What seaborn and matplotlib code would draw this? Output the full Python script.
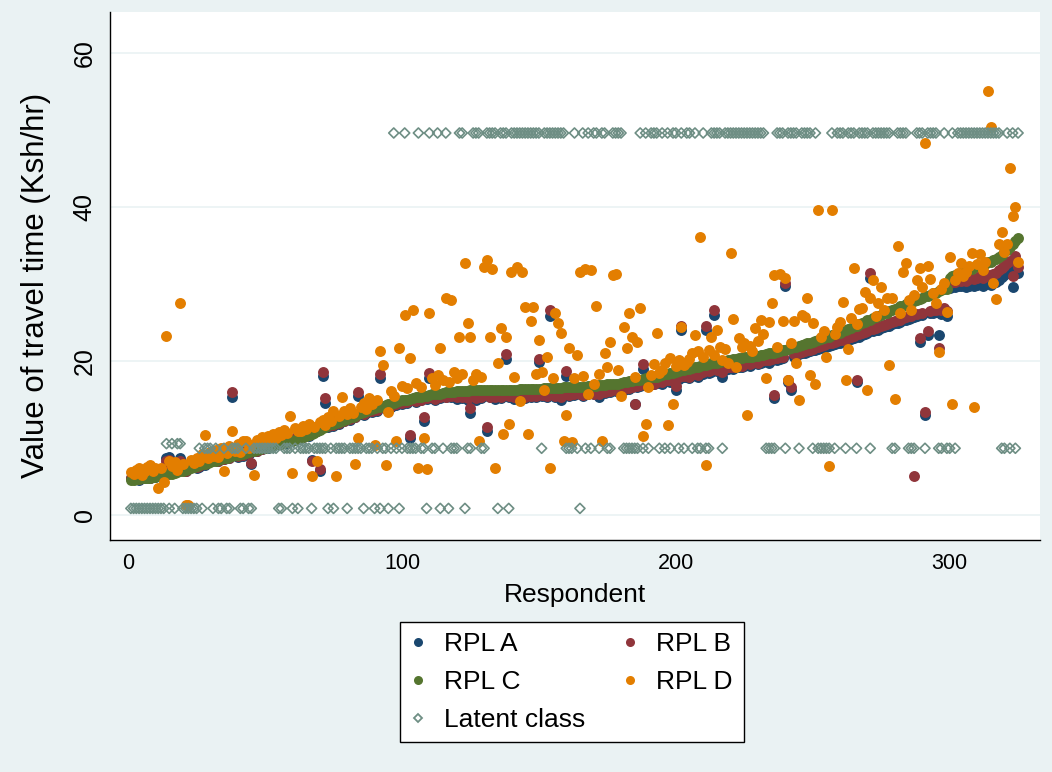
import matplotlib
matplotlib.use("Agg")
import matplotlib.pyplot as plt
from matplotlib.lines import Line2D
import numpy as np
import pandas as pd
import seaborn as sns

# values, one per respondent (1..325), 25 per line
rpl_c = [
    4.6, 4.6, 4.7, 4.7, 4.8, 4.8, 4.9, 4.9, 5.0, 5.0, 5.1, 5.1, 5.2, 5.3, 5.3, 5.4, 5.5, 5.6, 5.7, 5.8, 5.9, 6.0, 6.1, 6.3, 6.4,
    6.5, 6.6, 6.7, 6.8, 6.9, 7.0, 7.1, 7.2, 7.3, 7.4, 7.5, 7.6, 7.7, 7.8, 7.8, 7.9, 8.0, 8.1, 8.2, 8.3, 8.4, 8.5, 8.6, 8.7, 8.8,
    8.9, 9.0, 9.1, 9.2, 9.3, 9.3, 9.4, 9.5, 9.6, 9.7, 9.8, 9.9, 10.0, 10.1, 10.3, 10.4, 10.5, 10.7, 10.9, 11.1, 11.3, 11.5, 11.7, 11.8, 11.9,
    12.0, 12.1, 12.3, 12.4, 12.5, 12.7, 12.8, 12.9, 13.1, 13.3, 13.4, 13.6, 13.7, 13.8, 13.9, 14.0, 14.1, 14.2, 14.3, 14.4, 14.5, 14.6, 14.7, 14.8, 14.9,
    14.9, 15.0, 15.1, 15.2, 15.3, 15.4, 15.4, 15.5, 15.5, 15.6, 15.7, 15.7, 15.8, 15.8, 15.9, 16.0, 16.0, 16.0, 16.0, 16.1, 16.1, 16.1, 16.1, 16.1, 16.2,
    16.2, 16.2, 16.2, 16.2, 16.2, 16.2, 16.2, 16.3, 16.3, 16.3, 16.3, 16.3, 16.3, 16.3, 16.3, 16.3, 16.3, 16.4, 16.4, 16.4, 16.4, 16.4, 16.4, 16.4, 16.4,
    16.4, 16.5, 16.5, 16.5, 16.5, 16.5, 16.5, 16.5, 16.6, 16.6, 16.6, 16.6, 16.6, 16.7, 16.7, 16.7, 16.7, 16.8, 16.8, 16.8, 16.8, 16.9, 16.9, 16.9, 17.0,
    17.0, 17.0, 17.1, 17.1, 17.2, 17.3, 17.3, 17.4, 17.4, 17.5, 17.6, 17.6, 17.7, 17.8, 17.8, 17.9, 18.0, 18.0, 18.1, 18.2, 18.3, 18.4, 18.5, 18.5, 18.6,
    18.7, 18.8, 18.9, 19.0, 19.0, 19.1, 19.2, 19.3, 19.4, 19.5, 19.5, 19.6, 19.7, 19.8, 19.8, 19.9, 20.0, 20.0, 20.1, 20.2, 20.3, 20.3, 20.4, 20.4, 20.5,
    20.5, 20.6, 20.6, 20.7, 20.7, 20.8, 20.8, 20.9, 21.0, 21.0, 21.1, 21.2, 21.3, 21.4, 21.5, 21.6, 21.7, 21.8, 21.9, 22.0, 22.1, 22.2, 22.3, 22.4, 22.5,
    22.6, 22.7, 22.9, 23.0, 23.1, 23.2, 23.4, 23.5, 23.6, 23.7, 23.9, 24.0, 24.2, 24.3, 24.5, 24.6, 24.8, 25.0, 25.1, 25.3, 25.4, 25.6, 25.7, 25.9, 26.0,
    26.2, 26.3, 26.5, 26.6, 26.8, 26.9, 27.1, 27.2, 27.4, 27.5, 27.7, 27.8, 28.0, 28.1, 28.2, 28.4, 28.5, 28.6, 28.8, 28.9, 29.1, 29.2, 29.3, 29.4, 30.8,
    31.0, 31.2, 31.3, 31.5, 31.6, 31.8, 31.9, 32.0, 32.2, 32.3, 32.4, 32.5, 32.6, 32.8, 32.9, 33.1, 33.3, 33.5, 33.8, 34.1, 34.4, 34.8, 35.2, 35.6, 36.0,
]

rpl_a = [
    4.8, 4.7, 5.0, 4.6, 5.1, 4.9, 5.2, 4.8, 5.3, 5.0, 5.4, 5.6, 5.9, 7.4, 7.6, 6.3, 5.8, 6.1, 7.4, 6.0, 5.7, 6.2, 6.4, 6.6, 6.2,
    6.3, 6.9, 6.5, 7.1, 7.0, 7.4, 7.2, 7.0, 7.6, 7.3, 7.8, 7.5, 15.3, 7.9, 7.6, 8.1, 7.7, 8.3, 8.0, 6.6, 8.5, 8.4, 8.7, 8.6, 8.9,
    8.8, 9.1, 9.0, 9.3, 9.5, 9.2, 9.6, 9.4, 9.8, 9.7, 10.0, 9.9, 10.2, 10.1, 10.5, 10.3, 7.2, 10.8, 11.0, 5.8, 18.1, 14.6, 11.5, 11.9, 11.6,
    12.2, 11.9, 12.4, 12.2, 12.6, 12.4, 13.0, 12.7, 15.5, 13.2, 13.0, 13.3, 13.6, 13.4, 13.8, 13.6, 17.8, 14.0, 13.8, 14.3, 14.1, 14.5, 14.3, 14.7, 14.5,
    14.8, 14.6, 10.0, 15.0, 14.7, 15.2, 14.9, 12.2, 15.1, 17.8, 15.3, 15.0, 15.5, 15.2, 15.6, 15.3, 15.7, 15.4, 15.8, 15.1, 15.6, 15.2, 15.7, 15.0, 13.3,
    15.4, 15.0, 15.6, 15.2, 15.5, 11.0, 15.3, 15.6, 15.1, 15.5, 15.2, 15.7, 20.3, 15.4, 15.6, 15.1, 15.5, 15.3, 15.7, 15.2, 15.6, 15.4, 15.8, 15.3, 19.9,
    15.5, 15.8, 15.4, 25.8, 15.6, 15.3, 15.9, 14.9, 15.7, 18.1, 15.5, 15.9, 15.6, 16.0, 15.7, 15.5, 16.0, 15.8, 16.1, 15.7, 16.0, 15.3, 16.1, 15.9, 16.2,
    16.0, 16.3, 16.1, 16.2, 16.4, 16.3, 16.5, 16.4, 16.6, 14.4, 16.7, 16.8, 19.0, 16.9, 17.0, 17.1, 17.0, 17.2, 17.3, 17.1, 17.4, 17.5, 17.3, 17.6, 16.2,
    17.7, 24.0, 17.9, 18.0, 17.8, 18.1, 18.2, 17.9, 18.3, 18.4, 24.0, 18.5, 18.6, 26.0, 18.7, 18.8, 18.0, 18.9, 19.0, 19.1, 19.0, 19.2, 19.3, 19.2, 19.4,
    19.5, 19.4, 19.6, 19.7, 19.6, 19.8, 19.9, 20.0, 19.8, 20.1, 15.2, 20.2, 20.3, 20.4, 29.7, 17.3, 16.3, 20.6, 20.7, 20.9, 21.0, 21.1, 21.2, 21.3, 21.4,
    21.5, 21.6, 21.7, 21.8, 21.9, 22.0, 22.1, 22.2, 22.3, 22.4, 22.5, 22.6, 22.8, 22.9, 23.0, 17.3, 23.2, 23.4, 23.5, 23.6, 30.8, 23.9, 24.0, 24.1, 24.3,
    24.4, 24.5, 24.6, 24.8, 24.9, 25.0, 25.1, 25.3, 25.4, 25.5, 25.6, 25.7, 25.8, 22.5, 26.0, 13.0, 23.4, 26.2, 26.3, 26.4, 23.4, 26.1, 26.5, 25.9, 29.5,
    29.7, 29.6, 29.8, 29.7, 29.9, 29.6, 29.8, 30.0, 29.7, 29.9, 30.1, 29.8, 30.0, 30.2, 29.9, 30.1, 30.3, 30.5, 30.9, 31.2, 31.5, 31.8, 29.6, 32.6, 31.4,
]

rpl_b = [
    4.9, 4.8, 5.0, 4.7, 5.1, 5.0, 5.2, 4.9, 5.3, 5.1, 5.4, 5.6, 5.8, 7.0, 7.2, 6.2, 5.9, 6.1, 7.0, 6.0, 5.8, 6.2, 6.4, 6.5, 6.3,
    6.4, 6.8, 6.6, 7.0, 7.0, 7.3, 7.2, 7.1, 7.5, 7.3, 7.7, 7.5, 16.0, 7.9, 7.7, 8.1, 7.8, 8.3, 8.1, 6.8, 8.5, 8.4, 8.7, 8.6, 8.9,
    8.9, 9.1, 9.1, 9.3, 9.5, 9.3, 9.6, 9.5, 9.8, 9.8, 10.0, 10.0, 10.2, 10.2, 10.5, 10.4, 7.1, 10.8, 11.0, 6.0, 18.6, 15.2, 11.6, 11.9, 11.7,
    12.2, 12.0, 12.4, 12.3, 12.6, 12.5, 13.0, 12.8, 16.0, 13.3, 13.1, 13.4, 13.6, 13.5, 13.8, 13.7, 18.4, 14.0, 13.9, 14.3, 14.2, 14.5, 14.4, 14.7, 14.6,
    14.8, 14.7, 10.4, 15.0, 14.8, 15.2, 15.0, 12.7, 15.2, 18.5, 15.3, 15.1, 15.5, 15.3, 15.6, 15.4, 15.7, 15.5, 15.8, 15.3, 15.7, 15.3, 15.8, 15.2, 13.9,
    15.5, 15.2, 15.7, 15.3, 15.6, 11.4, 15.4, 15.7, 15.3, 15.6, 15.4, 15.8, 20.9, 15.5, 15.7, 15.3, 15.6, 15.4, 15.8, 15.4, 15.7, 15.5, 15.9, 15.5, 20.3,
    15.6, 15.9, 15.5, 26.6, 15.7, 15.5, 16.0, 15.4, 15.8, 18.7, 15.6, 16.0, 15.7, 16.1, 15.8, 15.6, 16.1, 15.9, 16.2, 15.8, 16.1, 15.8, 16.2, 16.0, 16.3,
    16.1, 16.4, 16.2, 16.3, 16.5, 16.4, 16.6, 16.5, 16.7, 14.5, 16.8, 16.9, 19.6, 17.0, 17.1, 17.2, 17.1, 17.3, 17.4, 17.3, 17.5, 17.6, 17.5, 17.7, 16.8,
    17.9, 24.5, 18.1, 18.2, 18.0, 18.3, 18.4, 18.2, 18.5, 18.6, 24.5, 18.7, 18.8, 26.6, 18.9, 19.0, 18.6, 19.1, 19.2, 19.3, 19.2, 19.4, 19.5, 19.4, 19.6,
    19.7, 19.6, 19.8, 19.9, 19.8, 20.0, 20.1, 20.2, 20.1, 20.3, 15.6, 20.4, 20.5, 20.6, 30.1, 17.5, 16.6, 20.9, 21.0, 21.1, 21.2, 21.3, 21.4, 21.5, 21.6,
    21.8, 21.9, 22.0, 22.1, 22.2, 22.3, 22.4, 22.5, 22.6, 22.7, 22.8, 22.9, 23.1, 23.2, 23.3, 17.6, 23.5, 23.7, 23.8, 23.9, 31.4, 24.2, 24.3, 24.4, 24.6,
    24.7, 24.8, 24.9, 25.1, 25.2, 25.3, 25.4, 25.6, 25.7, 25.8, 25.9, 5.1, 26.1, 23.0, 26.3, 13.4, 23.9, 26.5, 26.6, 26.7, 21.7, 26.6, 26.9, 26.5, 30.2,
    30.4, 30.3, 30.5, 30.4, 30.6, 30.4, 30.6, 30.8, 30.6, 30.8, 31.0, 30.8, 31.0, 31.2, 31.0, 31.3, 31.5, 31.8, 32.1, 32.4, 32.7, 33.0, 31.0, 33.6, 32.2,
]

rpl_d = [
    5.6, 5.3, 5.9, 6.1, 5.2, 5.8, 6.3, 6.5, 5.7, 6.2, 3.6, 6.1, 4.3, 23.3, 7.0, 6.4, 6.9, 5.9, 27.5, 6.6, 1.4, 1.3, 7.2, 6.8, 7.5,
    7.1, 8.0, 10.4, 7.4, 8.2, 7.7, 8.5, 7.6, 8.8, 5.8, 8.1, 9.0, 10.9, 8.4, 9.3, 8.2, 9.6, 9.7, 8.7, 9.1, 5.2, 9.8, 9.4, 10.1, 9.5,
    10.3, 9.9, 10.6, 10.0, 10.8, 10.4, 11.1, 10.7, 12.9, 5.5, 11.3, 10.9, 11.0, 11.6, 11.2, 11.8, 5.1, 11.4, 7.1, 12.1, 12.4, 11.7, 12.8, 12.2, 13.6,
    5.1, 12.9, 15.3, 13.6, 13.1, 13.9, 13.3, 6.6, 10.0, 14.1, 14.6, 13.8, 15.2, 14.4, 9.1, 15.0, 21.3, 19.5, 6.5, 13.4, 16.1, 15.5, 9.7, 21.7, 16.8,
    26.0, 16.5, 20.4, 26.6, 17.2, 6.1, 16.6, 10.0, 6.0, 26.3, 17.8, 16.9, 18.2, 21.7, 17.5, 28.2, 17.3, 28.0, 18.6, 17.8, 23.1, 18.3, 32.7, 24.9, 23.1,
    17.6, 18.4, 9.7, 17.9, 32.2, 33.1, 23.1, 32.0, 6.2, 19.7, 24.3, 10.6, 23.1, 11.9, 31.6, 17.9, 32.2, 14.8, 31.6, 27.0, 10.5, 25.2, 27.0, 18.4, 22.7,
    18.6, 16.2, 20.6, 6.2, 17.8, 26.2, 24.9, 23.6, 9.7, 13.0, 21.7, 9.5, 17.8, 20.8, 31.6, 18.1, 32.0, 15.8, 31.8, 17.1, 27.1, 18.4, 9.7, 21.0, 19.2,
    22.5, 31.2, 31.3, 18.8, 15.5, 24.4, 21.7, 26.2, 23.2, 18.0, 22.5, 26.9, 10.3, 11.9, 16.6, 18.2, 19.6, 23.6, 18.5, 18.9, 19.7, 11.7, 20.4, 14.4, 19.4,
    20.1, 24.4, 19.5, 19.9, 20.3, 21.0, 23.4, 21.3, 36.1, 20.6, 6.5, 21.4, 23.2, 20.8, 24.1, 21.8, 20.2, 21.6, 19.7, 34.0, 25.5, 19.2, 23.0, 21.8, 22.3,
    13.0, 22.0, 21.3, 24.3, 22.6, 25.3, 23.5, 17.8, 25.1, 27.5, 31.2, 21.8, 31.3, 25.2, 30.8, 17.5, 22.4, 25.2, 19.7, 14.9, 26.0, 25.7, 28.2, 18.2, 24.9,
    17.1, 39.6, 23.1, 23.9, 20.6, 6.4, 39.6, 23.5, 24.4, 25.1, 27.7, 17.6, 21.6, 25.6, 32.1, 24.8, 26.8, 26.9, 29.0, 16.2, 28.2, 30.5, 25.9, 27.5, 29.6,
    26.7, 28.2, 19.5, 28.2, 15.1, 34.9, 26.2, 31.6, 32.7, 27.9, 26.6, 28.6, 30.5, 32.1, 29.6, 48.3, 32.3, 30.6, 28.9, 27.5, 21.2, 29.4, 30.1, 26.4, 33.5,
    14.4, 30.5, 31.4, 32.7, 31.1, 31.6, 32.3, 34.0, 14.0, 32.6, 33.9, 31.8, 32.9, 55.0, 50.4, 30.1, 28.1, 35.2, 36.8, 34.2, 35.2, 45.1, 38.8, 40.0, 32.8,
]

# latent class value per respondent: L = low, M/m = middle band, H = top band
latent_codes = (
    "LLLLLLLLLLLLLmLmLmmLLLLLL"
    "MLMMMLMLLMLLMMMLLMLLMMMMM"
    "MMMMLLMMMLMLMMMMLMMMMMLML"
    "MMMMLMMMMMLMMMLMLMMLMHMLM"
    "HMMMMHMMLHMMHLMHLMMMHHLMM"
    "HHHMMHHHHLHHHLHHHHHHHHHHH"
    "MHHHHHHHHMMMHMLHMHMHHMHHM"
    "MHHHHMMMMMMHMHMHHHMHMHMHH"
    "MHMHHMHMMHMMHHHHMHHHHHHHH"
    "HHHHHHHMMMMHHHMHHHHMHHHHM"
    "HMMMMMHMHHHMHHHMHHHHMHHHH"
    "HHHMMHHHHMMMHHHMHHHHMMHMM"
    "HMHHHHHHHHHHHHHHHHMMHMHMH"
)
latent_levels = {"L": 0.9, "M": 8.7, "m": 9.3, "H": 49.6}
latent = [latent_levels[c] for c in latent_codes]

respondent = list(range(1, len(rpl_c) + 1))

df = pd.DataFrame({
    "Respondent": respondent,
    "RPL A": rpl_a,
    "RPL B": rpl_b,
    "RPL C": rpl_c,
    "RPL D": rpl_d,
    "Latent class": latent,
})

colors = {
    "RPL A": "#1a476f",
    "RPL B": "#90353b",
    "RPL C": "#55752f",
    "RPL D": "#e37e00",
    "Latent class": "#6e8e84",
}

sns.set_style("white")
plt.rcParams["font.family"] = ["Liberation Sans", "DejaVu Sans"]
plt.rcParams["text.color"] = "black"
plt.rcParams["axes.labelcolor"] = "black"

fig = plt.figure(figsize=(10.52, 7.72), dpi=100, facecolor="#eaf2f3")
ax = fig.add_axes([0.1046, 0.3005, 0.884, 0.684])
ax.set_facecolor("white")

for name in ["RPL A", "RPL B", "RPL C", "RPL D"]:
    sns.scatterplot(data=df, x="Respondent", y=name, ax=ax, color=colors[name],
                    s=62, linewidth=0, legend=False)
sns.scatterplot(data=df, x="Respondent", y="Latent class", ax=ax, marker="D",
                s=26, facecolor="none", edgecolor=colors["Latent class"],
                linewidth=1.2, legend=False)

ax.set_xlim(-6.6, 333)
ax.set_ylim(-3.2, 65.3)
ax.set_xticks([0, 100, 200, 300])
ax.set_yticks([0, 20, 40, 60])
ax.yaxis.grid(True, color="#eaf2f3", linewidth=1.2)
ax.set_axisbelow(True)
for side in ["top", "right"]:
    ax.spines[side].set_visible(False)
for side in ["left", "bottom"]:
    ax.spines[side].set_color("black")
    ax.spines[side].set_linewidth(1)
ax.tick_params(direction="out", length=6, width=1, colors="black", labelsize=15.5)
ax.tick_params(axis="y", labelrotation=90, labelsize=18)
for lab in ax.get_yticklabels():
    lab.set_va("center")

ax.set_xlabel("Respondent", fontsize=19, labelpad=6)
ax.set_ylabel("Value of travel time (Ksh/hr)", fontsize=22.5)
ax.yaxis.set_label_coords(-0.064, 0.483)

handles = []
labels = []
for name in ["RPL A", "RPL C", "Latent class", "RPL B", "RPL D"]:
    if name == "Latent class":
        h = Line2D([], [], linestyle="none", marker="D", markersize=4.5,
                   markerfacecolor="none", markeredgecolor=colors[name], markeredgewidth=1.3)
    else:
        h = Line2D([], [], linestyle="none", marker="o", markersize=6.5,
                   markerfacecolor=colors[name], markeredgewidth=0)
    handles.append(h)
    labels.append(name)

leg = fig.legend(handles, labels, ncol=2, loc="center", bbox_to_anchor=(0.5437, 0.1165),
                 frameon=True, fancybox=False, edgecolor="black", facecolor="white",
                 framealpha=1, fontsize=19, handlelength=0.5, handletextpad=0.75,
                 columnspacing=1.45, labelspacing=0.52, borderpad=0.4, borderaxespad=0)
leg.get_frame().set_linewidth(1.0)

fig.savefig("out.png", dpi=100, facecolor=fig.get_facecolor())
